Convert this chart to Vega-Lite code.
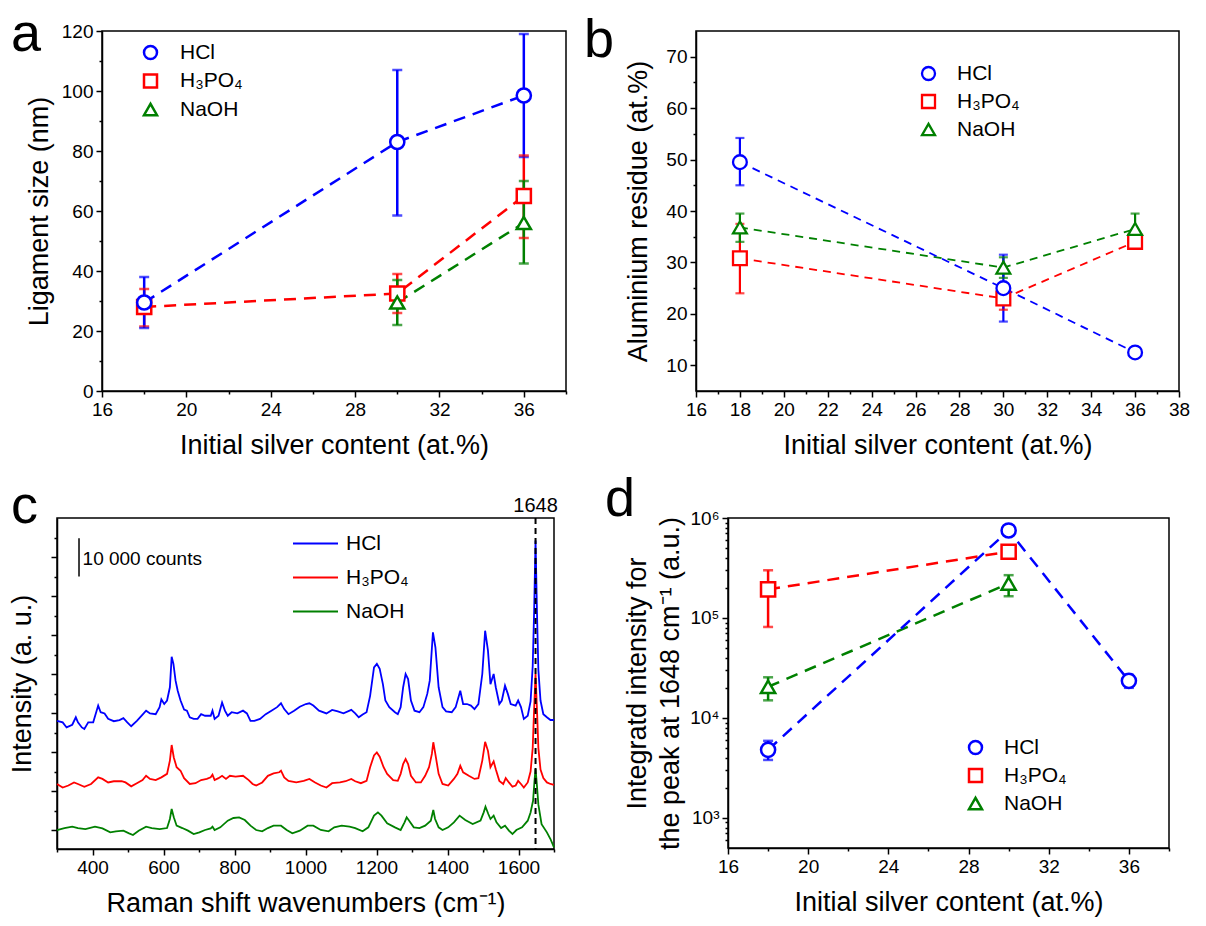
{
"$schema": "https://vega.github.io/schema/vega-lite/v6.json",
"background": "white",
"padding": {"left": 7, "top": 7, "right": 0, "bottom": 0},
"datasets": {
"a": [
{"acid":"H₃PO₄","ag":18,"v":28,"lo":21.5,"hi":34},
{"acid":"H₃PO₄","ag":30,"v":32.5,"lo":26,"hi":39},
{"acid":"H₃PO₄","ag":36,"v":65,"lo":51,"hi":78.5},
{"acid":"NaOH","ag":30,"v":29.5,"lo":22,"hi":37},
{"acid":"NaOH","ag":36,"v":56,"lo":42.5,"hi":70},
{"acid":"HCl","ag":18,"v":29.5,"lo":21,"hi":38},
{"acid":"HCl","ag":30,"v":83,"lo":58.5,"hi":107},
{"acid":"HCl","ag":36,"v":98.5,"lo":78,"hi":119}
],
"b": [
{"acid":"H₃PO₄","ag":18,"v":30.8,"lo":24,"hi":37.5},
{"acid":"H₃PO₄","ag":30,"v":23,"lo":20.8,"hi":25.2},
{"acid":"H₃PO₄","ag":36,"v":34,"lo":33.2,"hi":34.8},
{"acid":"NaOH","ag":18,"v":36.8,"lo":34,"hi":39.5},
{"acid":"NaOH","ag":30,"v":29,"lo":27,"hi":31},
{"acid":"NaOH","ag":36,"v":36.5,"lo":33.8,"hi":39.5},
{"acid":"HCl","ag":18,"v":49.5,"lo":45,"hi":54.2},
{"acid":"HCl","ag":30,"v":25,"lo":18.5,"hi":31.5},
{"acid":"HCl","ag":36,"v":12.5,"lo":12,"hi":13}
],
"d": [
{"acid":"H₃PO₄","ag":18,"v":193000,"lo":81300,"hi":300000},
{"acid":"H₃PO₄","ag":30,"v":460000,"lo":430000,"hi":490000},
{"acid":"NaOH","ag":18,"v":20500,"lo":15000,"hi":25500},
{"acid":"NaOH","ag":30,"v":221000,"lo":165000,"hi":268000},
{"acid":"HCl","ag":18,"v":4800,"lo":3800,"hi":5900},
{"acid":"HCl","ag":30,"v":750000,"lo":700000,"hi":800000},
{"acid":"HCl","ag":36,"v":23500,"lo":20000,"hi":27000}
],
"c": [
{"acid":"HCl","w":300,"n":28000},{"acid":"HCl","w":316,"n":27600},{"acid":"HCl","w":327,"n":26300},{"acid":"HCl","w":343,"n":27000},{"acid":"HCl","w":353,"n":28900},{"acid":"HCl","w":359,"n":27600},{"acid":"HCl","w":370,"n":26300},{"acid":"HCl","w":377,"n":25900},{"acid":"HCl","w":388,"n":27600},{"acid":"HCl","w":402,"n":27600},{"acid":"HCl","w":416,"n":31900},{"acid":"HCl","w":423,"n":30200},{"acid":"HCl","w":434,"n":29900},{"acid":"HCl","w":444,"n":28500},{"acid":"HCl","w":460,"n":27900},{"acid":"HCl","w":476,"n":28200},{"acid":"HCl","w":487,"n":28700},{"acid":"HCl","w":498,"n":27600},{"acid":"HCl","w":509,"n":26600},{"acid":"HCl","w":525,"n":28000},{"acid":"HCl","w":541,"n":29600},{"acid":"HCl","w":551,"n":30600},{"acid":"HCl","w":562,"n":29900},{"acid":"HCl","w":578,"n":29700},{"acid":"HCl","w":589,"n":31500},{"acid":"HCl","w":594,"n":33500},{"acid":"HCl","w":602,"n":32300},{"acid":"HCl","w":610,"n":33200},{"acid":"HCl","w":618,"n":36600},{"acid":"HCl","w":623,"n":44400},{"acid":"HCl","w":628,"n":42600},{"acid":"HCl","w":634,"n":38300},{"acid":"HCl","w":640,"n":35700},{"acid":"HCl","w":648,"n":33200},{"acid":"HCl","w":658,"n":30900},{"acid":"HCl","w":666,"n":30600},{"acid":"HCl","w":674,"n":28900},{"acid":"HCl","w":685,"n":28500},{"acid":"HCl","w":696,"n":28500},{"acid":"HCl","w":706,"n":29700},{"acid":"HCl","w":717,"n":29300},{"acid":"HCl","w":733,"n":29300},{"acid":"HCl","w":738,"n":30600},{"acid":"HCl","w":744,"n":28500},{"acid":"HCl","w":755,"n":29300},{"acid":"HCl","w":765,"n":32700},{"acid":"HCl","w":773,"n":30600},{"acid":"HCl","w":781,"n":29300},{"acid":"HCl","w":792,"n":30200},{"acid":"HCl","w":808,"n":29900},{"acid":"HCl","w":824,"n":30600},{"acid":"HCl","w":835,"n":29900},{"acid":"HCl","w":845,"n":28000},{"acid":"HCl","w":856,"n":28000},{"acid":"HCl","w":872,"n":28500},{"acid":"HCl","w":888,"n":29700},{"acid":"HCl","w":904,"n":30600},{"acid":"HCl","w":920,"n":31500},{"acid":"HCl","w":931,"n":32500},{"acid":"HCl","w":940,"n":31000},{"acid":"HCl","w":952,"n":29700},{"acid":"HCl","w":968,"n":30600},{"acid":"HCl","w":984,"n":31600},{"acid":"HCl","w":1001,"n":32300},{"acid":"HCl","w":1011,"n":32500},{"acid":"HCl","w":1022,"n":31900},{"acid":"HCl","w":1038,"n":30600},{"acid":"HCl","w":1059,"n":29900},{"acid":"HCl","w":1075,"n":30800},{"acid":"HCl","w":1091,"n":30400},{"acid":"HCl","w":1107,"n":29900},{"acid":"HCl","w":1129,"n":30800},{"acid":"HCl","w":1140,"n":29900},{"acid":"HCl","w":1150,"n":28900},{"acid":"HCl","w":1161,"n":29600},{"acid":"HCl","w":1172,"n":30200},{"acid":"HCl","w":1182,"n":34400},{"acid":"HCl","w":1193,"n":41700},{"acid":"HCl","w":1201,"n":42600},{"acid":"HCl","w":1209,"n":41300},{"acid":"HCl","w":1218,"n":37400},{"acid":"HCl","w":1225,"n":33200},{"acid":"HCl","w":1236,"n":31500},{"acid":"HCl","w":1252,"n":30200},{"acid":"HCl","w":1260,"n":29700},{"acid":"HCl","w":1268,"n":31500},{"acid":"HCl","w":1275,"n":36600},{"acid":"HCl","w":1282,"n":40000},{"acid":"HCl","w":1289,"n":38700},{"acid":"HCl","w":1297,"n":33200},{"acid":"HCl","w":1307,"n":30600},{"acid":"HCl","w":1321,"n":30200},{"acid":"HCl","w":1332,"n":31500},{"acid":"HCl","w":1343,"n":34900},{"acid":"HCl","w":1350,"n":38300},{"acid":"HCl","w":1359,"n":50700},{"acid":"HCl","w":1366,"n":46800},{"acid":"HCl","w":1375,"n":36600},{"acid":"HCl","w":1386,"n":31500},{"acid":"HCl","w":1396,"n":30400},{"acid":"HCl","w":1412,"n":30200},{"acid":"HCl","w":1423,"n":31500},{"acid":"HCl","w":1436,"n":35700},{"acid":"HCl","w":1444,"n":32300},{"acid":"HCl","w":1455,"n":32300},{"acid":"HCl","w":1466,"n":31900},{"acid":"HCl","w":1476,"n":31000},{"acid":"HCl","w":1487,"n":32300},{"acid":"HCl","w":1498,"n":40000},{"acid":"HCl","w":1506,"n":51100},{"acid":"HCl","w":1514,"n":46000},{"acid":"HCl","w":1521,"n":37400},{"acid":"HCl","w":1530,"n":40000},{"acid":"HCl","w":1536,"n":36600},{"acid":"HCl","w":1546,"n":32300},{"acid":"HCl","w":1553,"n":33200},{"acid":"HCl","w":1562,"n":37000},{"acid":"HCl","w":1570,"n":34900},{"acid":"HCl","w":1578,"n":32300},{"acid":"HCl","w":1592,"n":31900},{"acid":"HCl","w":1599,"n":33200},{"acid":"HCl","w":1607,"n":31500},{"acid":"HCl","w":1615,"n":28500},{"acid":"HCl","w":1626,"n":29300},{"acid":"HCl","w":1634,"n":33000},{"acid":"HCl","w":1640,"n":42000},{"acid":"HCl","w":1644,"n":56000},{"acid":"HCl","w":1648,"n":74200},{"acid":"HCl","w":1652,"n":56000},{"acid":"HCl","w":1656,"n":41000},{"acid":"HCl","w":1662,"n":33200},{"acid":"HCl","w":1670,"n":29700},{"acid":"HCl","w":1680,"n":28900},{"acid":"HCl","w":1690,"n":28200},{"acid":"HCl","w":1700,"n":28200},
{"acid":"H₃PO₄","w":300,"n":11800},{"acid":"H₃PO₄","w":316,"n":10900},{"acid":"H₃PO₄","w":332,"n":11400},{"acid":"H₃PO₄","w":348,"n":12200},{"acid":"H₃PO₄","w":359,"n":11800},{"acid":"H₃PO₄","w":377,"n":11100},{"acid":"H₃PO₄","w":396,"n":11800},{"acid":"H₃PO₄","w":416,"n":13500},{"acid":"H₃PO₄","w":428,"n":13100},{"acid":"H₃PO₄","w":444,"n":12200},{"acid":"H₃PO₄","w":460,"n":12500},{"acid":"H₃PO₄","w":482,"n":12500},{"acid":"H₃PO₄","w":493,"n":12200},{"acid":"H₃PO₄","w":509,"n":11200},{"acid":"H₃PO₄","w":525,"n":12000},{"acid":"H₃PO₄","w":541,"n":12800},{"acid":"H₃PO₄","w":551,"n":13900},{"acid":"H₃PO₄","w":562,"n":13100},{"acid":"H₃PO₄","w":578,"n":12800},{"acid":"H₃PO₄","w":594,"n":13500},{"acid":"H₃PO₄","w":610,"n":14400},{"acid":"H₃PO₄","w":618,"n":17800},{"acid":"H₃PO₄","w":623,"n":21800},{"acid":"H₃PO₄","w":629,"n":18600},{"acid":"H₃PO₄","w":637,"n":16100},{"acid":"H₃PO₄","w":648,"n":15200},{"acid":"H₃PO₄","w":658,"n":13300},{"acid":"H₃PO₄","w":674,"n":11800},{"acid":"H₃PO₄","w":690,"n":12000},{"acid":"H₃PO₄","w":706,"n":12800},{"acid":"H₃PO₄","w":722,"n":13100},{"acid":"H₃PO₄","w":733,"n":13500},{"acid":"H₃PO₄","w":738,"n":14200},{"acid":"H₃PO₄","w":744,"n":12800},{"acid":"H₃PO₄","w":755,"n":13300},{"acid":"H₃PO₄","w":765,"n":13900},{"acid":"H₃PO₄","w":776,"n":13100},{"acid":"H₃PO₄","w":787,"n":13900},{"acid":"H₃PO₄","w":803,"n":13700},{"acid":"H₃PO₄","w":824,"n":13900},{"acid":"H₃PO₄","w":840,"n":12800},{"acid":"H₃PO₄","w":851,"n":11800},{"acid":"H₃PO₄","w":861,"n":11400},{"acid":"H₃PO₄","w":878,"n":12200},{"acid":"H₃PO₄","w":894,"n":13900},{"acid":"H₃PO₄","w":910,"n":14500},{"acid":"H₃PO₄","w":926,"n":14800},{"acid":"H₃PO₄","w":931,"n":15200},{"acid":"H₃PO₄","w":940,"n":13500},{"acid":"H₃PO₄","w":952,"n":12600},{"acid":"H₃PO₄","w":974,"n":12200},{"acid":"H₃PO₄","w":995,"n":12600},{"acid":"H₃PO₄","w":1011,"n":13100},{"acid":"H₃PO₄","w":1027,"n":12200},{"acid":"H₃PO₄","w":1043,"n":11400},{"acid":"H₃PO₄","w":1059,"n":10900},{"acid":"H₃PO₄","w":1075,"n":12000},{"acid":"H₃PO₄","w":1097,"n":12200},{"acid":"H₃PO₄","w":1113,"n":12500},{"acid":"H₃PO₄","w":1129,"n":13100},{"acid":"H₃PO₄","w":1140,"n":12500},{"acid":"H₃PO₄","w":1156,"n":12000},{"acid":"H₃PO₄","w":1172,"n":12600},{"acid":"H₃PO₄","w":1182,"n":16100},{"acid":"H₃PO₄","w":1193,"n":19100},{"acid":"H₃PO₄","w":1201,"n":19900},{"acid":"H₃PO₄","w":1209,"n":18800},{"acid":"H₃PO₄","w":1220,"n":16100},{"acid":"H₃PO₄","w":1230,"n":14400},{"acid":"H₃PO₄","w":1247,"n":12800},{"acid":"H₃PO₄","w":1260,"n":12600},{"acid":"H₃PO₄","w":1268,"n":14400},{"acid":"H₃PO₄","w":1275,"n":16900},{"acid":"H₃PO₄","w":1282,"n":18200},{"acid":"H₃PO₄","w":1289,"n":16900},{"acid":"H₃PO₄","w":1297,"n":13900},{"acid":"H₃PO₄","w":1311,"n":12200},{"acid":"H₃PO₄","w":1325,"n":12200},{"acid":"H₃PO₄","w":1337,"n":13900},{"acid":"H₃PO₄","w":1348,"n":16100},{"acid":"H₃PO₄","w":1356,"n":19500},{"acid":"H₃PO₄","w":1360,"n":22500},{"acid":"H₃PO₄","w":1365,"n":19900},{"acid":"H₃PO₄","w":1375,"n":14400},{"acid":"H₃PO₄","w":1386,"n":11800},{"acid":"H₃PO₄","w":1402,"n":11400},{"acid":"H₃PO₄","w":1418,"n":13100},{"acid":"H₃PO₄","w":1428,"n":14400},{"acid":"H₃PO₄","w":1436,"n":16500},{"acid":"H₃PO₄","w":1444,"n":14800},{"acid":"H₃PO₄","w":1460,"n":13900},{"acid":"H₃PO₄","w":1476,"n":13100},{"acid":"H₃PO₄","w":1487,"n":13300},{"acid":"H₃PO₄","w":1498,"n":17800},{"acid":"H₃PO₄","w":1506,"n":22600},{"acid":"H₃PO₄","w":1514,"n":20300},{"acid":"H₃PO₄","w":1521,"n":16100},{"acid":"H₃PO₄","w":1530,"n":17600},{"acid":"H₃PO₄","w":1536,"n":15600},{"acid":"H₃PO₄","w":1546,"n":12600},{"acid":"H₃PO₄","w":1557,"n":11800},{"acid":"H₃PO₄","w":1564,"n":13300},{"acid":"H₃PO₄","w":1573,"n":12200},{"acid":"H₃PO₄","w":1583,"n":11100},{"acid":"H₃PO₄","w":1592,"n":11400},{"acid":"H₃PO₄","w":1599,"n":12600},{"acid":"H₃PO₄","w":1607,"n":11800},{"acid":"H₃PO₄","w":1615,"n":10900},{"acid":"H₃PO₄","w":1626,"n":12200},{"acid":"H₃PO₄","w":1634,"n":15000},{"acid":"H₃PO₄","w":1640,"n":21000},{"acid":"H₃PO₄","w":1644,"n":31000},{"acid":"H₃PO₄","w":1648,"n":40000},{"acid":"H₃PO₄","w":1652,"n":31000},{"acid":"H₃PO₄","w":1656,"n":21000},{"acid":"H₃PO₄","w":1662,"n":15500},{"acid":"H₃PO₄","w":1670,"n":13300},{"acid":"H₃PO₄","w":1680,"n":12200},{"acid":"H₃PO₄","w":1690,"n":11800},{"acid":"H₃PO₄","w":1700,"n":11600},
{"acid":"NaOH","w":300,"n":0},{"acid":"NaOH","w":321,"n":500},{"acid":"NaOH","w":343,"n":850},{"acid":"NaOH","w":359,"n":500},{"acid":"NaOH","w":380,"n":250},{"acid":"NaOH","w":407,"n":850},{"acid":"NaOH","w":428,"n":430},{"acid":"NaOH","w":450,"n":-600},{"acid":"NaOH","w":466,"n":-340},{"acid":"NaOH","w":487,"n":-170},{"acid":"NaOH","w":503,"n":-850},{"acid":"NaOH","w":514,"n":-1280},{"acid":"NaOH","w":530,"n":-170},{"acid":"NaOH","w":551,"n":850},{"acid":"NaOH","w":567,"n":500},{"acid":"NaOH","w":589,"n":250},{"acid":"NaOH","w":610,"n":500},{"acid":"NaOH","w":618,"n":2820},{"acid":"NaOH","w":623,"n":5380},{"acid":"NaOH","w":629,"n":3250},{"acid":"NaOH","w":637,"n":1110},{"acid":"NaOH","w":653,"n":500},{"acid":"NaOH","w":669,"n":-170},{"acid":"NaOH","w":685,"n":-1030},{"acid":"NaOH","w":701,"n":-600},{"acid":"NaOH","w":717,"n":0},{"acid":"NaOH","w":733,"n":430},{"acid":"NaOH","w":738,"n":850},{"acid":"NaOH","w":744,"n":0},{"acid":"NaOH","w":760,"n":680},{"acid":"NaOH","w":781,"n":2390},{"acid":"NaOH","w":797,"n":3080},{"acid":"NaOH","w":813,"n":3250},{"acid":"NaOH","w":829,"n":2560},{"acid":"NaOH","w":845,"n":1110},{"acid":"NaOH","w":861,"n":0},{"acid":"NaOH","w":878,"n":-340},{"acid":"NaOH","w":894,"n":500},{"acid":"NaOH","w":910,"n":1110},{"acid":"NaOH","w":931,"n":1110},{"acid":"NaOH","w":947,"n":0},{"acid":"NaOH","w":963,"n":-850},{"acid":"NaOH","w":984,"n":-170},{"acid":"NaOH","w":1006,"n":1110},{"acid":"NaOH","w":1022,"n":1110},{"acid":"NaOH","w":1043,"n":0},{"acid":"NaOH","w":1065,"n":-340},{"acid":"NaOH","w":1081,"n":680},{"acid":"NaOH","w":1102,"n":1110},{"acid":"NaOH","w":1124,"n":850},{"acid":"NaOH","w":1140,"n":500},{"acid":"NaOH","w":1161,"n":-340},{"acid":"NaOH","w":1177,"n":680},{"acid":"NaOH","w":1193,"n":3680},{"acid":"NaOH","w":1204,"n":4530},{"acid":"NaOH","w":1214,"n":3680},{"acid":"NaOH","w":1230,"n":1710},{"acid":"NaOH","w":1252,"n":680},{"acid":"NaOH","w":1268,"n":0},{"acid":"NaOH","w":1279,"n":1970},{"acid":"NaOH","w":1285,"n":3250},{"acid":"NaOH","w":1292,"n":2390},{"acid":"NaOH","w":1305,"n":680},{"acid":"NaOH","w":1321,"n":500},{"acid":"NaOH","w":1337,"n":1110},{"acid":"NaOH","w":1353,"n":2390},{"acid":"NaOH","w":1360,"n":5130},{"acid":"NaOH","w":1365,"n":2820},{"acid":"NaOH","w":1375,"n":680},{"acid":"NaOH","w":1386,"n":0},{"acid":"NaOH","w":1402,"n":680},{"acid":"NaOH","w":1418,"n":1970},{"acid":"NaOH","w":1434,"n":3680},{"acid":"NaOH","w":1450,"n":2560},{"acid":"NaOH","w":1471,"n":1540},{"acid":"NaOH","w":1493,"n":2390},{"acid":"NaOH","w":1502,"n":4530},{"acid":"NaOH","w":1507,"n":5980},{"acid":"NaOH","w":1515,"n":4100},{"acid":"NaOH","w":1521,"n":2820},{"acid":"NaOH","w":1530,"n":3680},{"acid":"NaOH","w":1538,"n":1970},{"acid":"NaOH","w":1551,"n":500},{"acid":"NaOH","w":1562,"n":1110},{"acid":"NaOH","w":1573,"n":-170},{"acid":"NaOH","w":1583,"n":-1030},{"acid":"NaOH","w":1594,"n":0},{"acid":"NaOH","w":1610,"n":680},{"acid":"NaOH","w":1626,"n":2390},{"acid":"NaOH","w":1634,"n":4500},{"acid":"NaOH","w":1641,"n":7500},{"acid":"NaOH","w":1645,"n":12500},{"acid":"NaOH","w":1648,"n":15600},{"acid":"NaOH","w":1651,"n":12500},{"acid":"NaOH","w":1656,"n":6500},{"acid":"NaOH","w":1665,"n":1500},{"acid":"NaOH","w":1680,"n":-600},{"acid":"NaOH","w":1690,"n":-2310},{"acid":"NaOH","w":1700,"n":-4440}
]
},
"spacing": 13,
"resolve": {"scale": {"color": "independent", "shape": "independent"}, "legend": {"color": "independent", "shape": "independent"}},
"vconcat": [
{"hconcat": [
{"hconcat": [
{"width": 45, "height": 360, "view": {"stroke": null}, "data": {"values": []}, "mark": "point"},
{
"width": 464, "height": 360,
"data": {"name": "a"},
"layer": [
{"mark": {"type": "rule", "strokeWidth": 2.5},
 "encoding": {
  "x": {"field": "ag", "type": "quantitative", "scale": {"domain": [16, 38], "nice": false, "zero": false}, "axis": {"orient": "bottom", "values": [16,20,24,28,32,36], "tickSize": 6, "labelPadding": 3, "title": "Initial silver content (at.%)", "titlePadding": 13}},
  "y": {"field": "lo", "type": "quantitative", "scale": {"domain": [0, 120], "nice": false, "zero": false}, "axis": {"orient": "left", "values": [0,20,40,60,80,100,120], "tickSize": 6, "labelPadding": 3, "title": "Ligament size (nm)", "titlePadding": 8}},
  "y2": {"field": "hi"},
  "stroke": {"field": "acid", "type": "nominal", "scale": {"domain": ["HCl","H₃PO₄","NaOH"], "range": ["#0000ff","#ff0000","#008000"]}, "legend": null}
 }},
{"mark": {"type": "tick", "orient": "horizontal", "size": 10, "thickness": 2.5},
 "encoding": {
  "x": {"field": "ag", "type": "quantitative", "scale": {"domain": [16, 38], "nice": false, "zero": false}, "axis": {"orient": "bottom", "values": [18,22,26,30,34,38], "tickSize": 3, "labels": false, "domain": false, "title": null}},
  "y": {"field": "lo", "type": "quantitative", "scale": {"domain": [0, 120], "nice": false, "zero": false}, "axis": {"orient": "left", "values": [10,30,50,70,90,110], "tickSize": 3, "labels": false, "domain": false, "title": null}},
  "fill": {"field": "acid", "type": "nominal", "scale": {"domain": ["HCl","H₃PO₄","NaOH"], "range": ["#0000ff","#ff0000","#008000"]}, "legend": null}
 }},
{"mark": {"type": "tick", "orient": "horizontal", "size": 10, "thickness": 2.5},
 "encoding": {
  "x": {"field": "ag", "type": "quantitative", "axis": null},
  "y": {"field": "hi", "type": "quantitative", "axis": null},
  "fill": {"field": "acid", "type": "nominal", "legend": null}
 }},
{"mark": {"type": "line", "strokeWidth": 2.5, "strokeDash": [12, 8]},
 "encoding": {
  "x": {"field": "ag", "type": "quantitative", "axis": null},
  "y": {"field": "v", "type": "quantitative", "axis": null},
  "stroke": {"field": "acid", "type": "nominal", "legend": null}
 }},
{"mark": {"type": "point", "filled": false, "fill": "white", "size": 200, "strokeWidth": 2.5, "opacity": 1},
 "encoding": {
  "x": {"field": "ag", "type": "quantitative", "axis": null},
  "y": {"field": "v", "type": "quantitative", "axis": null},
  "color": {"field": "acid", "type": "nominal", "scale": {"domain": ["HCl","H₃PO₄","NaOH"], "range": ["#0000ff","#ff0000","#008000"]}, "legend": {"title": null, "orient": "none", "legendX": 38, "legendY": 11, "symbolSize": 169, "symbolStrokeWidth": 2.5, "symbolFillColor": "white", "labelFontSize": 21, "labelOffset": 19, "rowPadding": 5.5, "padding": 0}},
  "shape": {"field": "acid", "type": "nominal", "scale": {"domain": ["HCl","H₃PO₄","NaOH"], "range": ["circle","square","triangle-up"]}, "legend": null}
 }},
{"data": {"values": [{}]},
 "mark": {"type": "text", "text": "a", "font": "Liberation Sans", "fontSize": 54, "align": "left", "baseline": "alphabetic", "dx": -91, "dy": 20, "color": "black"},
 "encoding": {
  "x": {"datum": 16, "type": "quantitative", "axis": null},
  "y": {"datum": 120, "type": "quantitative", "axis": null}
 }}
],
"resolve": {"axis": {"x": "independent", "y": "independent"}}
}
], "spacing": 0, "bounds": "flush",
"resolve": {"scale": {"color": "independent", "shape": "independent"}, "legend": {"color": "independent", "shape": "independent"}}},
{
"width": 483, "height": 360,
"data": {"name": "b"},
"layer": [
{"mark": {"type": "rule", "strokeWidth": 2.2},
 "encoding": {
  "x": {"field": "ag", "type": "quantitative", "scale": {"domain": [16, 38], "nice": false, "zero": false}, "axis": {"orient": "bottom", "values": [16,18,20,22,24,26,28,30,32,34,36,38], "tickSize": 6, "labelPadding": 3, "title": "Initial silver content (at.%)", "titlePadding": 13}},
  "y": {"field": "lo", "type": "quantitative", "scale": {"domain": [5, 75], "nice": false, "zero": false}, "axis": {"orient": "left", "values": [10,20,30,40,50,60,70], "tickSize": 6, "labelPadding": 3, "title": "Aluminium residue (at.%)", "titlePadding": 13}},
  "y2": {"field": "hi"},
  "stroke": {"field": "acid", "type": "nominal", "scale": {"domain": ["HCl","H₃PO₄","NaOH"], "range": ["#0000ff","#ff0000","#008000"]}, "legend": null}
 }},
{"mark": {"type": "tick", "orient": "horizontal", "size": 9, "thickness": 2.2},
 "encoding": {
  "x": {"field": "ag", "type": "quantitative", "scale": {"domain": [16, 38], "nice": false, "zero": false}, "axis": {"orient": "bottom", "values": [17,19,21,23,25,27,29,31,33,35,37], "tickSize": 3, "labels": false, "domain": false, "title": null}},
  "y": {"field": "lo", "type": "quantitative", "scale": {"domain": [5, 75], "nice": false, "zero": false}, "axis": {"orient": "left", "values": [15,25,35,45,55,65], "tickSize": 3, "labels": false, "domain": false, "title": null}},
  "fill": {"field": "acid", "type": "nominal", "scale": {"domain": ["HCl","H₃PO₄","NaOH"], "range": ["#0000ff","#ff0000","#008000"]}, "legend": null}
 }},
{"mark": {"type": "tick", "orient": "horizontal", "size": 9, "thickness": 2.2},
 "encoding": {
  "x": {"field": "ag", "type": "quantitative", "axis": null},
  "y": {"field": "hi", "type": "quantitative", "axis": null},
  "fill": {"field": "acid", "type": "nominal", "legend": null}
 }},
{"mark": {"type": "line", "strokeWidth": 1.8, "strokeDash": [8, 6]},
 "encoding": {
  "x": {"field": "ag", "type": "quantitative", "axis": null},
  "y": {"field": "v", "type": "quantitative", "axis": null},
  "stroke": {"field": "acid", "type": "nominal", "legend": null}
 }},
{"mark": {"type": "point", "filled": false, "fill": "white", "size": 190, "strokeWidth": 2.3, "opacity": 1},
 "encoding": {
  "x": {"field": "ag", "type": "quantitative", "axis": null},
  "y": {"field": "v", "type": "quantitative", "axis": null},
  "color": {"field": "acid", "type": "nominal", "scale": {"domain": ["HCl","H₃PO₄","NaOH"], "range": ["#0000ff","#ff0000","#008000"]}, "legend": {"title": null, "orient": "none", "legendX": 222, "legendY": 32, "symbolSize": 169, "symbolStrokeWidth": 2.3, "symbolFillColor": "white", "labelFontSize": 21, "labelOffset": 18, "rowPadding": 5, "padding": 0}},
  "shape": {"field": "acid", "type": "nominal", "scale": {"domain": ["HCl","H₃PO₄","NaOH"], "range": ["circle","square","triangle-up"]}, "legend": null}
 }},
{"data": {"values": [{}]},
 "mark": {"type": "text", "text": "b", "font": "Liberation Sans", "fontSize": 54, "align": "left", "baseline": "alphabetic", "dx": -112, "dy": 26, "color": "black"},
 "encoding": {
  "x": {"datum": 16, "type": "quantitative", "axis": null},
  "y": {"datum": 75, "type": "quantitative", "axis": null}
 }}
],
"resolve": {"axis": {"x": "independent", "y": "independent"}}
}
], "spacing": 15,
"resolve": {"scale": {"color": "independent", "shape": "independent"}, "legend": {"color": "independent", "shape": "independent"}}},
{"hconcat": [
{
"width": 497, "height": 331,
"data": {"name": "c"},
"layer": [
{"mark": {"type": "line", "strokeWidth": 1.8},
 "encoding": {
  "x": {"field": "w", "type": "quantitative", "scale": {"domain": [300, 1700], "nice": false, "zero": false}, "axis": {"orient": "bottom", "values": [400,600,800,1000,1200,1400,1600], "format": "d", "tickSize": 6, "labelPadding": 3, "title": "Raman shift wavenumbers (cm⁻¹)", "titlePadding": 13}},
  "y": {"field": "n", "type": "quantitative", "scale": {"domain": [-4870, 80000], "nice": false, "zero": false}, "axis": {"orient": "left", "values": [0,10000,20000,30000,40000,50000,60000,70000], "tickSize": 6, "labels": false, "title": "Intensity (a. u.)", "titlePadding": 14}},
  "color": {"field": "acid", "type": "nominal", "scale": {"domain": ["HCl","H₃PO₄","NaOH"], "range": ["#0000ff","#ff0000","#008000"]}, "legend": {"title": null, "orient": "none", "legendX": 235, "legendY": 2, "symbolType": "stroke", "symbolSize": 2025, "symbolStrokeWidth": 2, "labelFontSize": 21, "labelOffset": 7, "rowPadding": -16.5, "padding": 0}}
 }},
{"data": {"values": [{}]},
 "mark": {"type": "rule", "color": "black", "strokeWidth": 1.5},
 "encoding": {
  "x": {"datum": 362, "type": "quantitative", "axis": {"orient": "bottom", "values": [300,500,700,900,1100,1300,1500,1700], "tickSize": 3, "labels": false, "domain": false, "title": null}},
  "y": {"datum": 65000, "type": "quantitative", "axis": {"orient": "left", "values": [5000,15000,25000,35000,45000,55000,65000,75000], "tickSize": 3, "labels": false, "domain": false, "title": null}},
  "y2": {"datum": 74800}
 }},
{"data": {"values": [{}]},
 "mark": {"type": "text", "text": "10 000 counts", "font": "Liberation Sans", "fontSize": 19, "align": "left", "baseline": "middle", "color": "black"},
 "encoding": {
  "x": {"datum": 372, "type": "quantitative", "axis": null},
  "y": {"datum": 69500, "type": "quantitative", "axis": null}
 }},
{"data": {"values": [{}]},
 "mark": {"type": "rule", "color": "black", "strokeWidth": 2, "strokeDash": [6, 4]},
 "encoding": {
  "x": {"datum": 1648, "type": "quantitative", "axis": null}
 }},
{"data": {"values": [{}]},
 "mark": {"type": "text", "text": "1648", "font": "Liberation Sans", "fontSize": 20, "align": "center", "baseline": "alphabetic", "dy": -6, "color": "black"},
 "encoding": {
  "x": {"datum": 1648, "type": "quantitative", "axis": null},
  "y": {"datum": 80000, "type": "quantitative", "axis": null}
 }},
{"data": {"values": [{}]},
 "mark": {"type": "text", "text": "c", "font": "Liberation Sans", "fontSize": 54, "align": "left", "baseline": "alphabetic", "dx": -46, "dy": 5, "color": "black"},
 "encoding": {
  "x": {"datum": 300, "type": "quantitative", "axis": null},
  "y": {"datum": 80000, "type": "quantitative", "axis": null}
 }}
],
"resolve": {"axis": {"x": "independent", "y": "independent"}}
},
{
"width": 441, "height": 330,
"data": {"name": "d"},
"layer": [
{"mark": {"type": "rule", "strokeWidth": 2.5},
 "encoding": {
  "x": {"field": "ag", "type": "quantitative", "scale": {"domain": [16, 38], "nice": false, "zero": false}, "axis": {"orient": "bottom", "values": [16,20,24,28,32,36], "tickSize": 6, "labelPadding": 3, "title": "Initial silver content (at.%)", "titlePadding": 13}},
  "y": {"field": "lo", "type": "quantitative", "scale": {"type": "log", "domain": [500, 1000000], "nice": false}, "axis": {"orient": "left", "values": [1000,10000,100000,1000000], "tickSize": 6, "labelPadding": 3, "labelExpr": "datum.value == 1000 ? '10³' : datum.value == 10000 ? '10⁴' : datum.value == 100000 ? '10⁵' : '10⁶'", "title": ["Integratd intensity for", "the peak at 1648 cm⁻¹ (a.u.)"], "titleLineHeight": 33, "titlePadding": 5}},
  "y2": {"field": "hi"},
  "stroke": {"field": "acid", "type": "nominal", "scale": {"domain": ["HCl","H₃PO₄","NaOH"], "range": ["#0000ff","#ff0000","#008000"]}, "legend": null}
 }},
{"mark": {"type": "tick", "orient": "horizontal", "size": 10, "thickness": 2.5},
 "encoding": {
  "x": {"field": "ag", "type": "quantitative", "scale": {"domain": [16, 38], "nice": false, "zero": false}, "axis": {"orient": "bottom", "values": [18,22,26,30,34,38], "tickSize": 3, "labels": false, "domain": false, "title": null}},
  "y": {"field": "lo", "type": "quantitative", "scale": {"type": "log", "domain": [500, 1000000], "nice": false}, "axis": {"orient": "left", "values": [600,700,800,900,2000,3000,4000,5000,6000,7000,8000,9000,20000,30000,40000,50000,60000,70000,80000,90000,200000,300000,400000,500000,600000,700000,800000,900000], "tickSize": 3, "labels": false, "domain": false, "title": null}},
  "fill": {"field": "acid", "type": "nominal", "scale": {"domain": ["HCl","H₃PO₄","NaOH"], "range": ["#0000ff","#ff0000","#008000"]}, "legend": null}
 }},
{"mark": {"type": "tick", "orient": "horizontal", "size": 10, "thickness": 2.5},
 "encoding": {
  "x": {"field": "ag", "type": "quantitative", "axis": null},
  "y": {"field": "hi", "type": "quantitative", "axis": null},
  "fill": {"field": "acid", "type": "nominal", "legend": null}
 }},
{"mark": {"type": "line", "strokeWidth": 2.5, "strokeDash": [12, 8]},
 "encoding": {
  "x": {"field": "ag", "type": "quantitative", "axis": null},
  "y": {"field": "v", "type": "quantitative", "axis": null},
  "stroke": {"field": "acid", "type": "nominal", "legend": null}
 }},
{"mark": {"type": "point", "filled": false, "fill": "white", "size": 200, "strokeWidth": 2.5, "opacity": 1},
 "encoding": {
  "x": {"field": "ag", "type": "quantitative", "axis": null},
  "y": {"field": "v", "type": "quantitative", "axis": null},
  "color": {"field": "acid", "type": "nominal", "scale": {"domain": ["HCl","H₃PO₄","NaOH"], "range": ["#0000ff","#ff0000","#008000"]}, "legend": {"title": null, "orient": "none", "legendX": 237, "legendY": 219, "symbolSize": 169, "symbolStrokeWidth": 2.5, "symbolFillColor": "white", "labelFontSize": 21, "labelOffset": 18, "rowPadding": 5, "padding": 0}},
  "shape": {"field": "acid", "type": "nominal", "scale": {"domain": ["HCl","H₃PO₄","NaOH"], "range": ["circle","square","triangle-up"]}, "legend": null}
 }},
{"data": {"values": [{}]},
 "mark": {"type": "text", "text": "d", "font": "Liberation Sans", "fontSize": 54, "align": "left", "baseline": "alphabetic", "dx": -123, "dy": -2, "color": "black"},
 "encoding": {
  "x": {"datum": 16, "type": "quantitative", "axis": null},
  "y": {"datum": 1000000, "type": "quantitative", "axis": null}
 }}
],
"resolve": {"axis": {"x": "independent", "y": "independent"}}
}
], "spacing": 174, "bounds": "flush",
"resolve": {"scale": {"color": "independent", "shape": "independent"}, "legend": {"color": "independent", "shape": "independent"}}}
],
"config": {
 "view": {"stroke": "black", "strokeWidth": 1.5},
 "axis": {"grid": false, "labelFont": "Liberation Sans", "titleFont": "Liberation Sans", "labelFontSize": 19, "titleFontSize": 27, "titleFontWeight": "normal", "labelColor": "black", "titleColor": "black", "domainColor": "black", "tickColor": "black", "domainWidth": 1.5, "tickWidth": 1.5, "labelFlush": false, "labelOverlap": false},
 "legend": {"labelFont": "Liberation Sans", "labelColor": "black", "labelBaseline": "middle"},
 "text": {"font": "Liberation Sans"}
}
}
